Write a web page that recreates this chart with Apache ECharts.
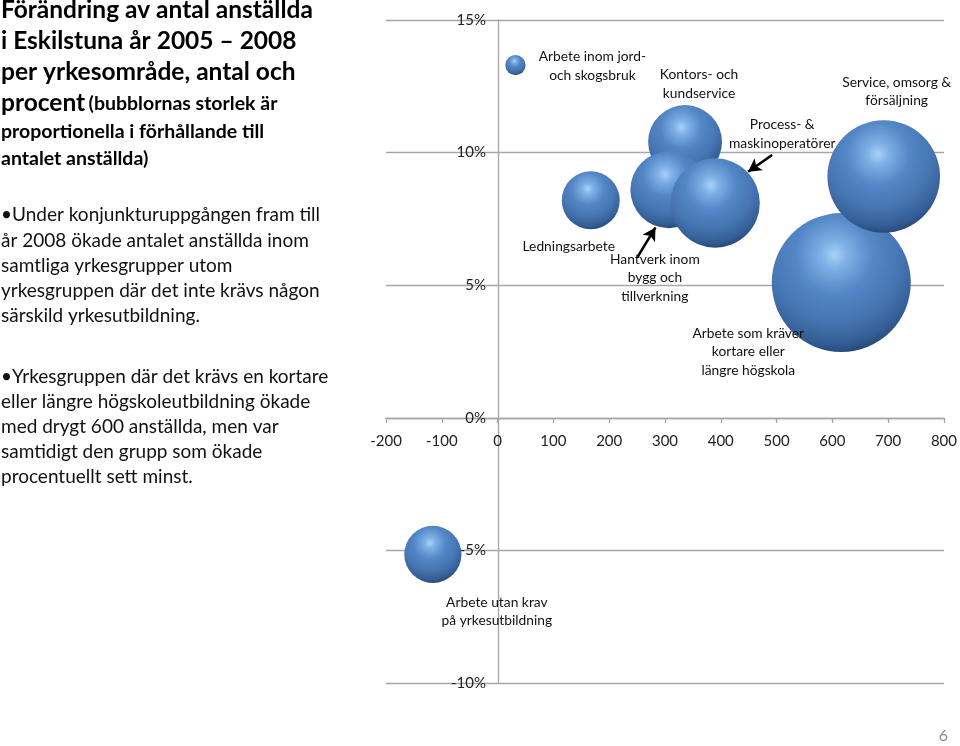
<!DOCTYPE html>
<html><head><meta charset="utf-8">
<script src="https://cdn.jsdelivr.net/npm/echarts@6/dist/echarts.min.js"></script>
<style>html,body{margin:0;padding:0;background:#fff}#c{width:960px;height:746px}</style>
</head><body><div id="c"></div>
<script>
// ---- data ----
const categories = [
  'Arbete inom jord-\noch skogsbruk',
  'Ledningsarbete',
  'Kontors- och\nkundservice',
  'Hantverk inom\nbygg och\ntillverkning',
  'Process- &\nmaskinoperatörer',
  'Arbete som kräver\nkortare eller\nlängre högskola',
  'Service, omsorg &\nförsäljning',
  'Arbete utan krav\npå yrkesutbildning'
];
const changeCount = [32, 167, 336, 307, 390, 616, 692, -116];     // förändring, antal
const changePct   = [13.3, 8.2, 10.4, 8.6, 8.1, 5.1, 9.1, -5.15]; // förändring, procent
const employees   = [270, 2200, 3570, 3880, 5220, 12650, 8300, 2140]; // antal anställda (bubbelstorlek)
const xTickMin = -200, xTickMax = 800, xTickStep = 100;
const yTickMin = -10, yTickMax = 15, yTickStep = 5;
const arrowCoords = [
  [[251, 6.07], [283, 7.18]],
  [[492, 9.91], [449, 9.28]]
];
const titleLines = [
  'Förändring av antal anställda',
  'i Eskilstuna år 2005 – 2008',
  'per yrkesområde, antal och'
];
const bullet1 = [
  '•Under konjunkturuppgången fram till',
  'år 2008 ökade antalet anställda inom',
  'samtliga yrkesgrupper utom',
  'yrkesgruppen där det inte krävs någon',
  'särskild yrkesutbildning.'
];
const bullet2 = [
  '•Yrkesgruppen där det krävs en kortare',
  'eller längre högskoleutbildning ökade',
  'med drygt 600 anställda, men var',
  'samtidigt den grupp som ökade',
  'procentuellt sett minst.'
];

// ---- styles / layout ----
const FONT = 'Lato, "Open Sans", sans-serif';
const labelOffsets = [[77,1],[-22,46],[14,-58],[-14,88],[67,-69],[-93,69.5],[13,-85],[64,57]];
const sphere = {
  type: 'radial', x: 0.45, y: 0.3, r: 0.8,
  colorStops: [
    {offset: 0, color: '#a9d2f7'},
    {offset: 0.12, color: '#7fb0e6'},
    {offset: 0.35, color: '#5387c6'},
    {offset: 0.6, color: '#4675b2'},
    {offset: 0.8, color: '#345d95'},
    {offset: 0.92, color: '#223f68'},
    {offset: 1, color: '#1a2f4f'}
  ]
};

const seriesData = categories.map((name, i) => ({
  name: name,
  value: [changeCount[i], changePct[i], employees[i]]
}));

const graphics = [];
const titleY = [13, 44, 75];
titleLines.forEach((t, i) => graphics.push({
  type: 'text', left: 1, top: titleY[i] - 15,
  style: {text: t, font: 'bold 24.5px ' + FONT, fill: '#000'}
}));
graphics.push({
  type: 'text', left: 1, top: 91,
  style: {
    text: '{a|procent} {b|(bubblornas storlek är}\n{b|proportionella i förhållande till}\n{b|antalet anställda)}',
    fill: '#000',
    rich: {
      a: {font: 'bold 24.5px ' + FONT, fill: '#000', lineHeight: 30},
      b: {font: 'bold 19.5px ' + FONT, fill: '#000', lineHeight: 27}
    }
  }
});
const b1Y = [217, 243, 268, 293, 318];
const b2Y = [379, 404, 429, 454, 479];
bullet1.forEach((t, i) => graphics.push({type: 'text', left: 1, top: b1Y[i] - 12, style: {text: t, font: '19px ' + FONT, fill: '#111'}}));
bullet2.forEach((t, i) => graphics.push({type: 'text', left: 1, top: b2Y[i] - 12, style: {text: t, font: '19px ' + FONT, fill: '#111'}}));
graphics.push({type: 'text', right: 12, top: 728, style: {text: '6', font: '16px ' + FONT, fill: '#8c8c8c'}});

const axisColor = '#a6a6a6';
const option = {
  animation: false,
  backgroundColor: '#fff',
  grid: {left: 386, right: 13, top: 20, bottom: 63},
  xAxis: {
    type: 'value', min: xTickMin, max: xTickMax, interval: xTickStep,
    offset: -265,
    axisLine: {onZero: false, lineStyle: {color: axisColor, width: 1.3}},
    axisTick: {show: true, length: 5, lineStyle: {color: axisColor, width: 1.3}},
    axisLabel: {margin: 16, color: '#222', fontSize: 15, fontFamily: FONT},
    splitLine: {show: false}
  },
  yAxis: {
    type: 'value', min: yTickMin, max: yTickMax, interval: yTickStep,
    offset: -112,
    axisLine: {onZero: false, lineStyle: {color: axisColor, width: 1.3}},
    axisTick: {show: false},
    axisLabel: {margin: 12, color: '#222', fontSize: 15, fontFamily: FONT, formatter: '{value}%'},
    splitLine: {show: true, lineStyle: {color: axisColor, width: 1.3}}
  },
  graphic: graphics,
  series: [{
    type: 'scatter',
    data: seriesData,
    symbolSize: v => 1.236 * Math.sqrt(v[2]),
    itemStyle: {color: sphere, opacity: 1},
    label: {
      show: true, position: 'inside', formatter: p => p.name,
      color: '#111', fontSize: 13.8, fontFamily: FONT, lineHeight: 18.5, align: 'center'
    },
    labelLayout: p => ({dx: labelOffsets[p.dataIndex][0], dy: labelOffsets[p.dataIndex][1], hideOverlap: false}),
    markLine: {
      silent: true, animation: false,
      symbol: ['none', 'arrow'], symbolSize: [11, 13],
      lineStyle: {color: '#000', width: 2.6, type: 'solid'},
      label: {show: false},
      data: arrowCoords.map(a => [{coord: a[0]}, {coord: a[1]}])
    }
  }]
};
const chart = echarts.init(document.getElementById('c'), null, {renderer: 'canvas'});
chart.setOption(option);
</script>
</body></html>
